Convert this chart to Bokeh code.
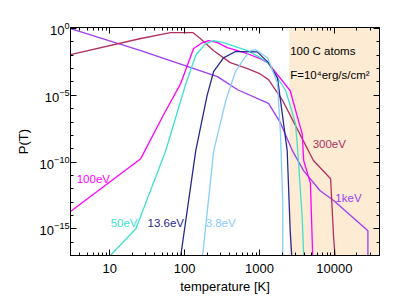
from bokeh.plotting import figure
from bokeh.models import (LogAxis, FixedTicker, PrintfTickFormatter, LogTickFormatter,
                          CustomJSTickFormatter, Label, BoxAnnotation, Range1d)
from bokeh.embed import file_html
from bokeh.resources import INLINE

# ---------------- data ----------------
T_1keV = [3.0, 26, 275, 510, 1320, 1900, 2750, 3890, 6460, 9770, 28000, 28000]
P_1keV = [1.0, 2.2e-2, 2.5e-4, 2.6e-5, 2.5e-6, 8.9e-8, 7.1e-10, 2.2e-11, 7.1e-13, 1.3e-13, 7.1e-16, 1e-17]

T_300eV = [3.0, 26, 65, 129, 162, 245, 407, 692, 1023, 1320, 2040, 5250, 8900, 9770, 10200]
P_300eV = [1.1e-2, 0.18, 0.5, 0.5, 0.18, 2.2e-2, 2.8e-3, 1e-3, 4e-4, 1.5e-4, 4e-6, 1.3e-10, 5.6e-12, 2e-16, 1e-17]

T_100eV = [3.0, 26, 52, 89, 132, 174, 209, 275, 372, 692, 1023, 1320, 2570, 3390, 3720, 3890, 4790, 5130]
P_100eV = [2e-14, 1.8e-10, 3.2e-7, 7.9e-5, 3.2e-2, 8.9e-2, 0.126, 8.9e-2, 3.7e-2, 1.3e-2, 5.6e-3, 2.5e-3,
           2.2e-5, 7.9e-8, 1.3e-8, 1.3e-10, 2.5e-12, 1e-17]

T_50eV = [10.2, 22.4, 56, 102, 141, 191, 245, 331, 692, 1023, 1320, 2240, 3020, 3240, 3720, 3890]
P_50eV = [1e-17, 1e-15, 7.1e-10, 5.2e-5, 1e-2, 7.4e-2, 0.126, 8.9e-2, 2.2e-2, 6.6e-3, 2.5e-3, 2.2e-5,
          7.9e-8, 7.1e-10, 6.3e-15, 1e-17]

T_13eV = [89, 141, 200, 245, 331, 479, 933, 1318, 1738, 2344, 2570, 2692]
P_13eV = [1e-17, 7.1e-10, 1e-5, 6.3e-4, 6.3e-3, 1.9e-2, 1.8e-2, 2.8e-3, 2e-4, 7.1e-10, 7.1e-16, 1e-17]

T_3eV = [174, 245, 355, 479, 631, 759, 891, 1288, 1738, 1905, 2042, 2042]
P_3eV = [1e-17, 7.1e-10, 4e-6, 6.3e-4, 6.3e-3, 2.2e-2, 2.6e-2, 6.3e-3, 7.9e-5, 1.3e-8, 1.3e-13, 1e-17]

x_ticks = [10, 100, 1000, 10000]
y_ticks = [1e-15, 1e-10, 1e-5, 1e0]
shade_start = 2500

FONT = "Liberation Sans"

series = [
    (T_1keV, P_1keV, "#A03CF0"),
    (T_300eV, P_300eV, "#B03060"),
    (T_100eV, P_100eV, "#FF00FF"),
    (T_50eV, P_50eV, "#40E0D0"),
    (T_13eV, P_13eV, "#28288F"),
    (T_3eV, P_3eV, "#87CEFA"),
]

labels = [
    ("100eV", 3.63, 5e-12, "#FF00FF"),
    ("50eV", 10.3, 2.5e-15, "#40E0D0"),
    ("13.6eV", 32, 2.5e-15, "#28288F"),
    ("3.8eV", 191, 2.5e-15, "#87CEFA"),
    ("300eV", 5130, 2.3e-9, "#B03060"),
    ("1keV", 10300, 2e-13, "#A03CF0"),
]

# ---------------- figure ----------------
p = figure(width=405, height=298, x_axis_type="log", y_axis_type="log",
           x_range=Range1d(3.0, 40000), y_range=Range1d(1e-17, 1.2),
           output_backend="svg", toolbar_location=None,
           min_border_left=70, min_border_right=26, min_border_top=27, min_border_bottom=43)
p.grid.visible = False
p.outline_line_color = "black"
p.background_fill_color = "white"
p.border_fill_color = "white"

p.add_layout(BoxAnnotation(left=shade_start, fill_color="#FDEBD3", fill_alpha=1.0,
                           line_color=None, level="underlay"))

for T, P, c in series:
    p.line(T, P, line_color=c, line_width=1.3)

x_minor = [m * 10 ** e for e in range(0, 5) for m in range(1, 10)]
y_minor = [10.0 ** (-k) for k in range(0, 18)]

def style(ax):
    ax.major_tick_in = 6
    ax.major_tick_out = 0
    ax.minor_tick_in = 3
    ax.minor_tick_out = 0
    ax.axis_line_color = "black"
    ax.major_tick_line_color = "black"
    ax.minor_tick_line_color = "black"
    ax.major_label_text_font = FONT
    ax.major_label_text_color = "black"
    ax.axis_label_text_font = FONT
    ax.axis_label_text_font_style = "normal"
    ax.axis_label_text_color = "black"

xa = p.xaxis[0]
xa.ticker = FixedTicker(ticks=x_ticks, minor_ticks=x_minor)
xa.formatter = PrintfTickFormatter(format="%d")
style(xa)
xa.major_label_text_font_size = "13px"
xa.major_label_standoff = 8
xa.axis_label = "temperature [K]"
xa.axis_label_text_font_size = "13px"
xa.axis_label_standoff = 3

ya = p.yaxis[0]
ya.ticker = FixedTicker(ticks=y_ticks, minor_ticks=y_minor)
ya.formatter = LogTickFormatter()
style(ya)
ya.major_label_text_font_size = "13px"
ya.major_label_standoff = 1
ya.axis_label = "P(T)"
ya.axis_label_text_font_size = "13px"
ya.axis_label_standoff = 6

blank = CustomJSTickFormatter(code="return ''")
top = LogAxis(ticker=FixedTicker(ticks=x_ticks, minor_ticks=x_minor), formatter=blank)
style(top)
p.add_layout(top, "above")
right = LogAxis(ticker=FixedTicker(ticks=y_ticks, minor_ticks=y_minor), formatter=blank)
style(right)
p.add_layout(right, "right")

for txt, x, y, c in labels:
    p.add_layout(Label(x=x, y=y, text=txt, text_font=FONT, text_font_size="11.5px",
                       text_color=c, text_baseline="middle"))

p.add_layout(Label(x=2570, y=2.2e-2, text="100 C atoms", text_font=FONT,
                   text_font_size="11.5px", text_color="black", text_baseline="middle"))
p.add_layout(Label(x=2570, y=3.2e-4, text="F=10\u2074erg/s/cm\u00b2", text_font=FONT,
                   text_font_size="11.5px", text_color="black", text_baseline="middle"))

open("out.html", "w").write(file_html(p, INLINE))
